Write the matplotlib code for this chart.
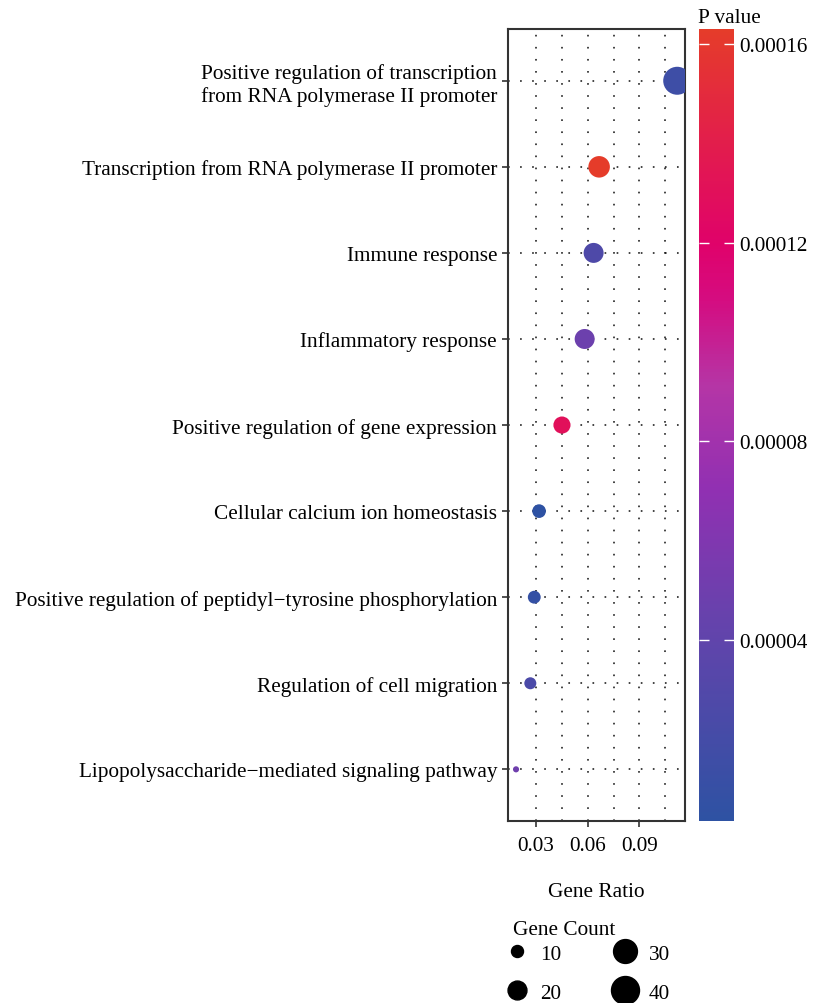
import numpy as np
import matplotlib
matplotlib.use("Agg")
import matplotlib.pyplot as plt
from matplotlib.colors import LinearSegmentedColormap, Normalize
from matplotlib.lines import Line2D

plt.rcParams['font.family'] = ['Liberation Serif', 'DejaVu Serif']
FS = 15.3

# data
terms = ["Positive regulation of transcription\nfrom RNA polymerase II promoter",
         "Transcription from RNA polymerase II promoter",
         "Immune response",
         "Inflammatory response",
         "Positive regulation of gene expression",
         "Cellular calcium ion homeostasis",
         "Positive regulation of peptidyl\u2212tyrosine phosphorylation",
         "Regulation of cell migration",
         "Lipopolysaccharide\u2212mediated signaling pathway"]
gene_ratio = [0.112, 0.0666, 0.0634, 0.0582, 0.045, 0.0317, 0.0289, 0.0266, 0.0183]
gene_count = [40, 25, 22, 22, 17, 12, 11, 10, 5]
p_value = [0.000015, 0.000163, 0.000027, 0.000048, 0.00013, 0.0000036, 0.000008, 0.000025, 0.00005]
legend_counts = [10, 20, 30, 40]
cbar_ticks = [0.00004, 0.00008, 0.00012, 0.00016]

cmap = LinearSegmentedColormap.from_list("pv", [
    (0.0, "#2E52A3"), (0.25, "#6543AC"), (0.42, "#9130B2"), (0.55, "#B535A6"),
    (0.66, "#D50C80"), (0.73, "#E0026A"), (1.0, "#E53C2A")])
norm = Normalize(vmin=min(p_value), vmax=max(p_value))

def area(c):
    # marker area in pt^2 (linear in count)
    d_px = np.sqrt(np.maximum(21.3 * np.asarray(c, float) - 69, 20))
    return (d_px * 0.72) ** 2

fig = plt.figure(figsize=(8.13, 10.04), dpi=100)
ax = fig.add_axes([0.625, 0.1813, 0.2177, 0.7887])

ypos = np.arange(len(terms))
ax.scatter(gene_ratio, ypos, s=area(gene_count), c=p_value, cmap=cmap, norm=norm,
           edgecolors='none', zorder=3)

ax.set_ylim(len(terms) - 0.4, -0.6)
ax.set_xlim(0.0137, 0.1166)
ax.set_yticks(ypos)
ax.set_yticklabels(terms, fontsize=FS, linespacing=1.2)
ax.set_xticks([0.03, 0.06, 0.09])
ax.set_xticklabels(["0.03", "0.06", "0.09"], fontsize=FS)
ax.set_xticks([0.045, 0.075, 0.105], minor=True)
ax.tick_params(axis='both', which='major', length=4, width=1.2, color='#333333', pad=4)
ax.tick_params(axis='x', which='major', pad=7)
ax.tick_params(axis='x', which='minor', length=0)
dots = (0, (1.1, 6.8))
ax.grid(True, which='both', axis='x', color='#111111', linewidth=1.1, linestyle=dots)
ax.grid(True, which='major', axis='y', color='#111111', linewidth=1.1, linestyle=dots)
ax.set_axisbelow(True)
for sp in ax.spines.values():
    sp.set_linewidth(1.5)
    sp.set_color('#333333')
ax.set_xlabel("Gene Ratio", fontsize=FS, labelpad=19)

# colorbar
cax = fig.add_axes([0.860, 0.1813, 0.043, 0.7887])
sm = plt.cm.ScalarMappable(norm=norm, cmap=cmap)
cb = fig.colorbar(sm, cax=cax, ticks=cbar_ticks)
cb.outline.set_visible(False)
cb.ax.set_yticklabels(["0.00004", "0.00008", "0.00012", "0.00016"], fontsize=FS)
cb.ax.tick_params(direction='in', color='white', length=7, width=1.0,
                  left=True, right=True, labelleft=False, labelright=True, pad=4)
fig.text(0.858, 0.982, "P value", fontsize=FS, ha='left', va='center')

# size legend
fig.text(0.631, 0.0737, "Gene Count", fontsize=FS, ha='left', va='center')
handles = [Line2D([], [], marker='o', linestyle='none', color='black',
                  markersize=np.sqrt(a)) for a in area(legend_counts)]
leg = fig.legend(handles, [str(c) for c in legend_counts], ncol=2, loc='upper left',
                 bbox_to_anchor=(0.615, 0.059), frameon=False,
                 fontsize=FS, columnspacing=2.2, handletextpad=0.3, labelspacing=0.9,
                 handlelength=1.6, borderaxespad=0, borderpad=0)

fig.savefig("out.png", dpi=100)
